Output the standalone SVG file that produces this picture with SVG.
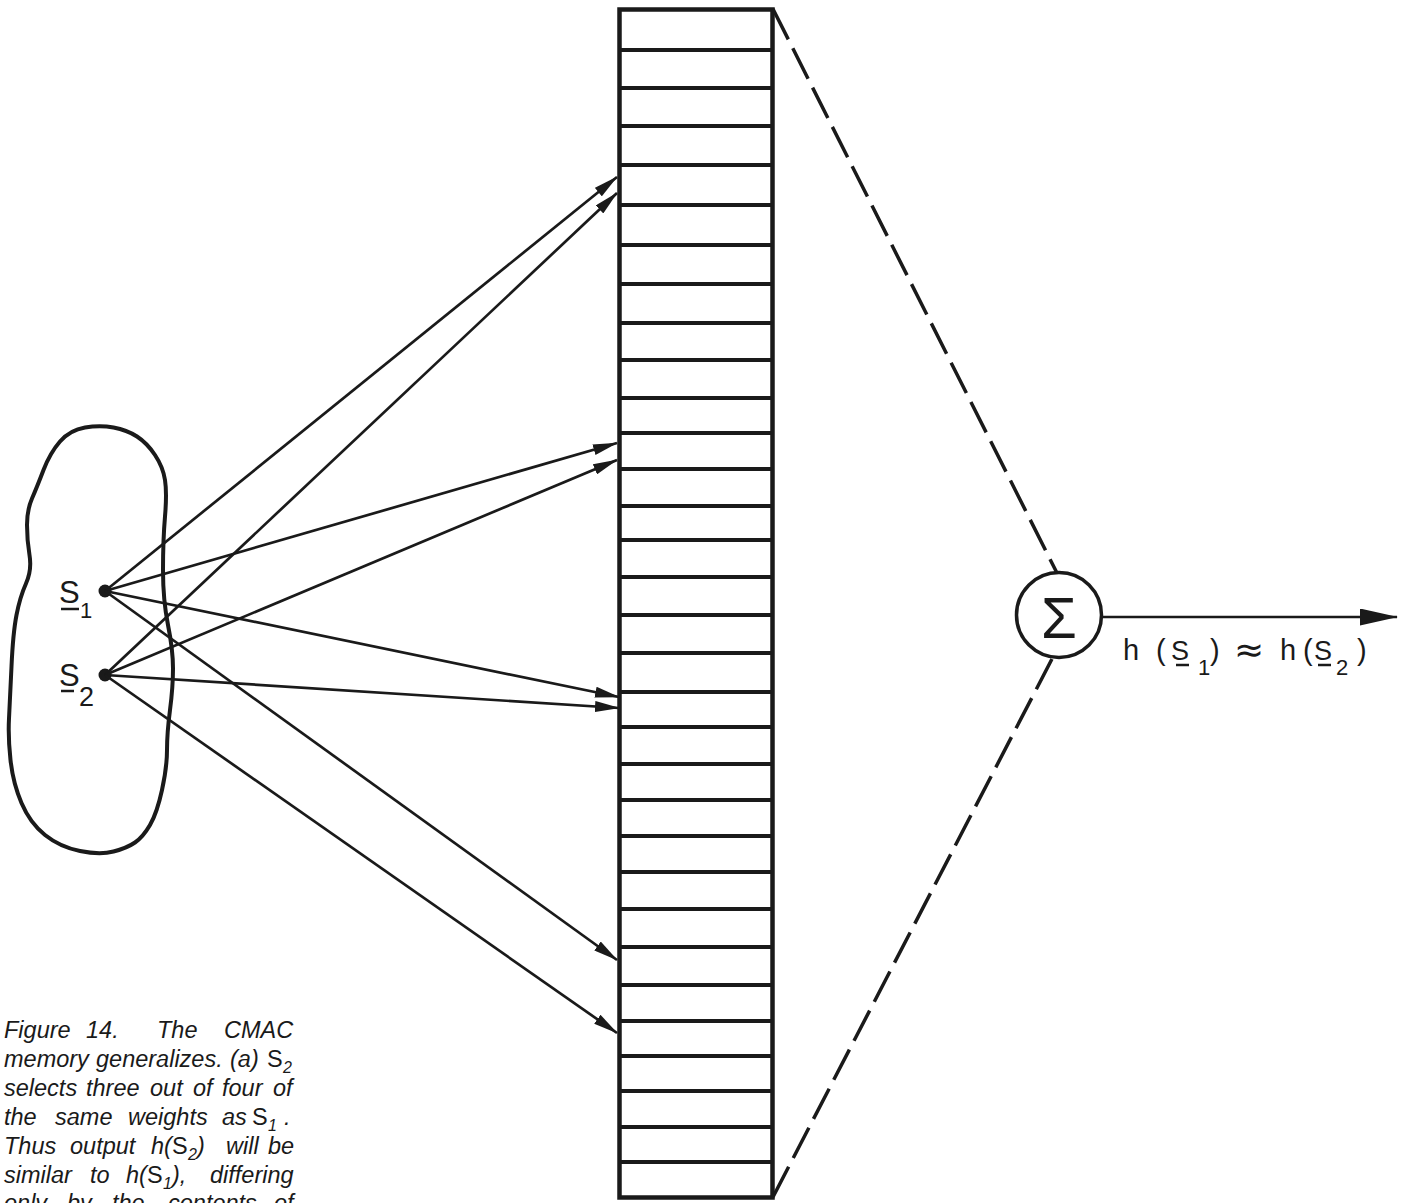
<svg xmlns="http://www.w3.org/2000/svg" width="1407" height="1203" viewBox="0 0 1407 1203">
<style>
  .ink { stroke: #1a1a1a; fill: none; }
  .conn { stroke: #1a1a1a; stroke-width: 2.7; fill: none; }
  .dash { stroke: #1a1a1a; stroke-width: 3.5; fill: none; stroke-dasharray: 34 10; }
  .div { stroke: #1a1a1a; stroke-width: 4; }
  .lbl { font-family: "Liberation Sans", Arial, sans-serif; fill: #1a1a1a; }
  .approx { font-family: "DejaVu Sans", sans-serif; fill: #1a1a1a; font-size: 36px; }
  .cap { font-family: "Liberation Sans", Arial, sans-serif; font-style: italic; font-size: 23.5px; fill: #1a1a1a; }
  .up { font-style: normal; }
  .sub { font-size: 16px; }
</style>
<defs>
  <marker id="arr" viewBox="0 0 25 11" refX="24" refY="5.5" markerWidth="25" markerHeight="11" markerUnits="userSpaceOnUse" orient="auto">
    <path d="M0,0 L25,5.5 L0,11 Z" fill="#1a1a1a"/>
  </marker>
  <marker id="bigarr" viewBox="0 0 38 17" refX="37" refY="8.5" markerWidth="38" markerHeight="17" markerUnits="userSpaceOnUse" orient="auto">
    <path d="M0,0 L38,8.5 L0,17 Z" fill="#1a1a1a"/>
  </marker>
</defs>
<rect width="1407" height="1203" fill="#ffffff"/>

<g id="input-space">
  <path class="ink" stroke-width="4" d="M85,427.5 Q100,425 113.5,427.5 Q127,430 137,436.5 Q147,443 155,455 Q163,467 165,480 Q167,493 165,516.5 Q163,540 163,570 Q163,600 168,625 Q173,650 173,668.5 Q173,687 170,710 Q167,733 167,750 Q167,767 162,790 Q157,813 150,825 Q143,837 135,842.5 Q127,848 113.5,851.5 Q100,855 80,851 Q60,847 45,835 Q30,823 21.5,803 Q13,783 10.5,760 Q8,737 9,718.5 Q10,700 11.5,666.5 Q13,633 16.5,615 Q20,597 26,583.5 Q32,570 29.5,555 Q27,540 27,525 Q27,510 32,498.5 Q37,487 43.5,470 Q50,453 60,441.5 Q70,430 85,427.5 Z"/>
  <g id="node-s1">
    <circle cx="105" cy="591" r="6.5" fill="#1a1a1a"/>
    <text class="lbl" x="59" y="603" font-size="31">S</text>
    <line class="ink" stroke-width="2.5" x1="61" y1="609" x2="79" y2="609"/>
    <text class="lbl" x="80" y="618" font-size="22">1</text>
  </g>
  <g id="node-s2">
    <circle cx="105" cy="675" r="6.5" fill="#1a1a1a"/>
    <text class="lbl" x="59" y="686" font-size="31">S</text>
    <line class="ink" stroke-width="2.5" x1="61" y1="691" x2="74" y2="691"/>
    <text class="lbl" x="79" y="706" font-size="27">2</text>
  </g>
</g>

<g id="memory-column">
  <rect x="619.5" y="9.5" width="153" height="1188" class="ink" stroke-width="4.5" fill="#ffffff"/>
  <g class="div">
    <line x1="620" x2="772" y1="50" y2="50"/>
    <line x1="620" x2="772" y1="88" y2="88"/>
    <line x1="620" x2="772" y1="126" y2="126"/>
    <line x1="620" x2="772" y1="165" y2="165"/>
    <line x1="620" x2="772" y1="205" y2="205"/>
    <line x1="620" x2="772" y1="245" y2="245"/>
    <line x1="620" x2="772" y1="284" y2="284"/>
    <line x1="620" x2="772" y1="323" y2="323"/>
    <line x1="620" x2="772" y1="360" y2="360"/>
    <line x1="620" x2="772" y1="398" y2="398"/>
    <line x1="620" x2="772" y1="433" y2="433"/>
    <line x1="620" x2="772" y1="469" y2="469"/>
    <line x1="620" x2="772" y1="506" y2="506"/>
    <line x1="620" x2="772" y1="540" y2="540"/>
    <line x1="620" x2="772" y1="577" y2="577"/>
    <line x1="620" x2="772" y1="615" y2="615"/>
    <line x1="620" x2="772" y1="653" y2="653"/>
    <line x1="620" x2="772" y1="692" y2="692"/>
    <line x1="620" x2="772" y1="727" y2="727"/>
    <line x1="620" x2="772" y1="764" y2="764"/>
    <line x1="620" x2="772" y1="800" y2="800"/>
    <line x1="620" x2="772" y1="836" y2="836"/>
    <line x1="620" x2="772" y1="872" y2="872"/>
    <line x1="620" x2="772" y1="909" y2="909"/>
    <line x1="620" x2="772" y1="947" y2="947"/>
    <line x1="620" x2="772" y1="985" y2="985"/>
    <line x1="620" x2="772" y1="1021" y2="1021"/>
    <line x1="620" x2="772" y1="1056" y2="1056"/>
    <line x1="620" x2="772" y1="1091" y2="1091"/>
    <line x1="620" x2="772" y1="1127" y2="1127"/>
    <line x1="620" x2="772" y1="1162" y2="1162"/>
  </g>
</g>

<g id="summer">
  <circle cx="1059" cy="615" r="42.5" class="ink" stroke-width="3.5" fill="#ffffff"/>
  <text class="lbl" x="1059" y="638" font-size="58" text-anchor="middle">Σ</text>
</g>

<g id="connectors">
  <line class="conn" x1="105" y1="591" x2="617" y2="177" marker-end="url(#arr)"/>
  <line class="conn" x1="105" y1="591" x2="617" y2="443" marker-end="url(#arr)"/>
  <line class="conn" x1="105" y1="591" x2="619" y2="697" marker-end="url(#arr)"/>
  <line class="conn" x1="105" y1="591" x2="617" y2="960" marker-end="url(#arr)"/>
  <line class="conn" x1="105" y1="675" x2="617" y2="193" marker-end="url(#arr)"/>
  <line class="conn" x1="105" y1="675" x2="617" y2="460" marker-end="url(#arr)"/>
  <line class="conn" x1="105" y1="675" x2="619" y2="708" marker-end="url(#arr)"/>
  <line class="conn" x1="105" y1="675" x2="617" y2="1033" marker-end="url(#arr)"/>
  <line class="dash" x1="773" y1="9" x2="1057" y2="573"/>
  <line class="dash" x1="773" y1="1197" x2="1053" y2="657"/>
  <line class="conn" x1="1102" y1="617" x2="1397" y2="617" marker-end="url(#bigarr)"/>
</g>

<g id="output-label">
  <text class="lbl" font-size="29">
    <tspan x="1123" y="660">h</tspan>
    <tspan x="1156" y="660">(</tspan>
    <tspan x="1171" y="660" font-size="27">S</tspan>
    <tspan x="1198" y="675" font-size="22">1</tspan>
    <tspan x="1210" y="660">)</tspan>
  </text>
  <text class="approx" x="1234" y="662">≈</text>
  <text class="lbl" font-size="29">
    <tspan x="1280" y="660">h</tspan>
    <tspan x="1303" y="660">(</tspan>
    <tspan x="1314" y="660" font-size="27">S</tspan>
    <tspan x="1336" y="675" font-size="22">2</tspan>
    <tspan x="1357" y="660">)</tspan>
  </text>
  <line class="ink" stroke-width="2.5" x1="1176" y1="665" x2="1189" y2="665"/>
  <line class="ink" stroke-width="2.5" x1="1318" y1="665" x2="1331" y2="665"/>
</g>

<g id="caption">
  <text class="cap"><tspan x="4" y="1038">Figure</tspan><tspan x="86" y="1038">14.</tspan><tspan x="157" y="1038">The</tspan><tspan x="224" y="1038">CMAC</tspan></text>
  <text class="cap"><tspan x="4" y="1067">memory</tspan><tspan x="96" y="1067">generalizes.</tspan><tspan x="230" y="1067">(a)</tspan><tspan x="267" y="1067" class="up">S</tspan><tspan x="283" y="1073" class="sub">2</tspan></text>
  <text class="cap"><tspan x="4" y="1096">selects</tspan><tspan x="86" y="1096">three</tspan><tspan x="150" y="1096">out</tspan><tspan x="193" y="1096">of</tspan><tspan x="222" y="1096">four</tspan><tspan x="273" y="1096">of</tspan></text>
  <text class="cap"><tspan x="4" y="1125">the</tspan><tspan x="55" y="1125">same</tspan><tspan x="128" y="1125">weights</tspan><tspan x="222" y="1125">as</tspan><tspan x="252" y="1125" class="up">S</tspan><tspan x="268" y="1131" class="sub">1</tspan><tspan x="284" y="1125">.</tspan></text>
  <text class="cap"><tspan x="4" y="1154">Thus</tspan><tspan x="70" y="1154">output</tspan><tspan x="151" y="1154">h(</tspan><tspan x="172" y="1154" class="up">S</tspan><tspan x="188" y="1160" class="sub">2</tspan><tspan x="197" y="1154">)</tspan><tspan x="226" y="1154">will</tspan><tspan x="268" y="1154">be</tspan></text>
  <text class="cap"><tspan x="4" y="1183">similar</tspan><tspan x="90" y="1183">to</tspan><tspan x="126" y="1183">h(</tspan><tspan x="147" y="1183" class="up">S</tspan><tspan x="163" y="1189" class="sub">1</tspan><tspan x="172" y="1183">),</tspan><tspan x="210" y="1183">differing</tspan></text>
  <text class="cap"><tspan x="4" y="1211">only</tspan><tspan x="67" y="1211">by</tspan><tspan x="112" y="1211">the</tspan><tspan x="168" y="1211">contents</tspan><tspan x="274" y="1211">of</tspan></text>
</g>
</svg>
